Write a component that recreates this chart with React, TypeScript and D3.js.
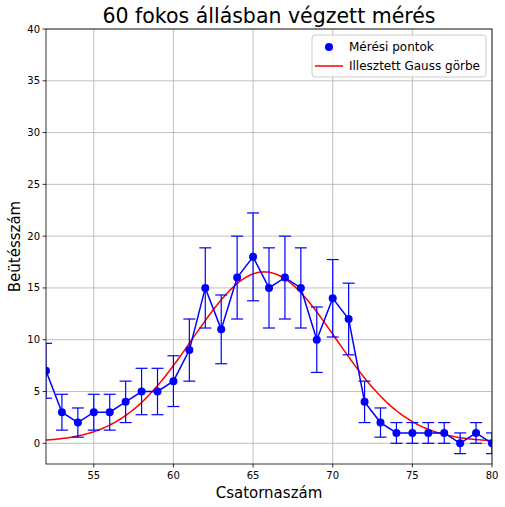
import React from 'react';
import * as d3 from 'd3';

const channels = [52, 53, 54, 55, 56, 57, 58, 59, 60, 61, 62, 63, 64, 65, 66, 67, 68, 69, 70, 71, 72, 73, 74, 75, 76, 77, 78, 79, 80];
const counts = [7, 3, 2, 3, 3, 4, 5, 5, 6, 9, 15, 11, 16, 18, 15, 16, 15, 10, 14, 12, 4, 2, 1, 1, 1, 1, 0, 1, 0];
const errors = [2.65, 1.73, 1.41, 1.73, 1.73, 2, 2.24, 2.24, 2.45, 3, 3.87, 3.32, 4, 4.24, 3.87, 4, 3.87, 3.16, 3.74, 3.46, 2, 1.41, 1, 1, 1, 1, 1, 1, 1];
// fitted Gauss parameters: amplitude, centre, sigma, offset
const gaussFit = { a: 16.4, mu: 65.7, sigma: 4.5, c: 0.15 };
const xTicks = [55, 60, 65, 70, 75, 80];
const yTicks = [0, 5, 10, 15, 20, 25, 30, 35, 40];

export default function App() {
  const W = 505, H = 507;
  const m = { l: 46, r: 492, t: 29, b: 464 };
  const x = d3.scaleLinear().domain([52, 80]).range([m.l, m.r]);
  const y = d3.scaleLinear().domain([-2, 40]).range([m.b, m.t]);
  const font = 'DejaVu Sans, sans-serif';

  const fitPts = d3.range(52, 80.01, 0.1).map(v => [v, gaussFit.a * Math.exp(-((v - gaussFit.mu) ** 2) / (2 * gaussFit.sigma ** 2)) + gaussFit.c] as [number, number]);
  const line = d3.line<[number, number]>().x(d => x(d[0])).y(d => y(d[1]));
  const dataLine = line(channels.map((c, i) => [c, counts[i]] as [number, number]));

  return (
    <svg width={W} height={H} style={{ position: 'absolute', left: 0, top: 0, fontFamily: font }}>
      <defs>
        <clipPath id="plot"><rect x={m.l} y={m.t} width={m.r - m.l} height={m.b - m.t} /></clipPath>
      </defs>
      <rect width={W} height={H} fill="#fff" />
      {xTicks.map(t => <line key={t} x1={x(t)} x2={x(t)} y1={m.t} y2={m.b} stroke="#b0b0b0" strokeWidth={0.8} />)}
      {yTicks.map(t => <line key={t} x1={m.l} x2={m.r} y1={y(t)} y2={y(t)} stroke="#b0b0b0" strokeWidth={0.8} />)}
      <g clipPath="url(#plot)">
        <path d={line(fitPts) || ''} fill="none" stroke="red" strokeWidth={1.5} />
        {channels.map((c, i) => {
          const cx = x(c), lo = y(counts[i] - errors[i]), hi = y(counts[i] + errors[i]);
          return (
            <g key={c} stroke="blue" strokeWidth={1.2}>
              <line x1={cx} x2={cx} y1={lo} y2={hi} />
              <line x1={cx - 6} x2={cx + 6} y1={lo} y2={lo} />
              <line x1={cx - 6} x2={cx + 6} y1={hi} y2={hi} />
            </g>
          );
        })}
        <path d={dataLine || ''} fill="none" stroke="blue" strokeWidth={1.5} />
        {channels.map((c, i) => <circle key={c} cx={x(c)} cy={y(counts[i])} r={4} fill="blue" />)}
      </g>
      <rect x={m.l} y={m.t} width={m.r - m.l} height={m.b - m.t} fill="none" stroke="#000" strokeWidth={0.8} />
      {xTicks.map(t => (
        <g key={t}>
          <line x1={x(t)} x2={x(t)} y1={m.b} y2={m.b + 3.5} stroke="#000" strokeWidth={0.8} />
          <text x={x(t)} y={m.b + 15} fontSize={10} textAnchor="middle">{t}</text>
        </g>
      ))}
      {yTicks.map(t => (
        <g key={t}>
          <line x1={m.l - 3.5} x2={m.l} y1={y(t)} y2={y(t)} stroke="#000" strokeWidth={0.8} />
          <text x={m.l - 6} y={y(t) + 3.5} fontSize={10} textAnchor="end">{t}</text>
        </g>
      ))}
      <text x={(m.l + m.r) / 2} y={23} fontSize={20.5} textAnchor="middle">60 fokos állásban végzett mérés</text>
      <text x={(m.l + m.r) / 2} y={498} fontSize={15} textAnchor="middle">Csatornaszám</text>
      <text transform={`translate(20,${(m.t + m.b) / 2}) rotate(-90)`} fontSize={15} textAnchor="middle">Beütésszám</text>
      <g transform="translate(312,35)">
        <rect width={174} height={42} rx={3} fill="#fff" fillOpacity={0.8} stroke="#ccc" />
        <circle cx={17} cy={12} r={4} fill="blue" />
        <text x={37} y={16} fontSize={12}>Mérési pontok</text>
        <line x1={3} x2={31} y1={31} y2={31} stroke="red" strokeWidth={1.5} />
        <text x={37} y={35} fontSize={12}>Illesztett Gauss görbe</text>
      </g>
    </svg>
  );
}
